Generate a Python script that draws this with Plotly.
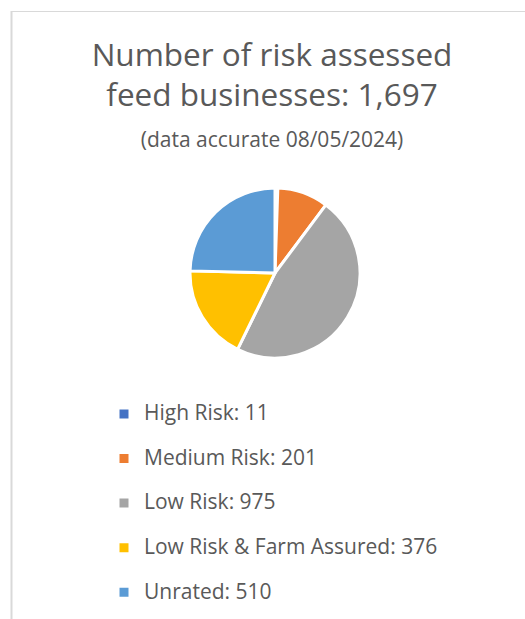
import plotly.graph_objects as go

categories = ["High Risk", "Medium Risk", "Low Risk", "Low Risk & Farm Assured", "Unrated"]
values = [11, 201, 975, 376, 510]
colors = ["#4472C4", "#ED7D31", "#A5A5A5", "#FFC000", "#5B9BD5"]
title_lines = ["Number of risk assessed", "feed businesses: 1,697"]
subtitle = "(data accurate 08/05/2024)"

W, H = 525, 619
FONT = "Open Sans"
TXT = "#595959"

legend_labels = [f'<span style="font-size:21px">{c}: {v}</span><br> ' for c, v in zip(categories, values)]

fig = go.Figure(go.Pie(
    labels=legend_labels,
    values=values,
    marker=dict(colors=colors, line=dict(color="white", width=3)),
    sort=False,
    direction="clockwise",
    rotation=0,
    textinfo="none",
    hoverinfo="label+value",
    domain=dict(x=[(275 - 85) / W, (275 + 85) / W], y=[1 - 358 / H, 1 - 188 / H]),
))

fig.update_layout(
    width=W, height=H,
    margin=dict(l=0, r=0, t=0, b=0, autoexpand=False),
    paper_bgcolor="white",
    plot_bgcolor="white",
    font=dict(family=FONT, color=TXT),
    title=dict(
        text=title_lines[0] + "<br>" + title_lines[1] + f'<br><span style="font-size:21px">{subtitle}</span>',
        x=272 / W, xanchor="center",
        y=1 - 65.5 / H, yanchor="top", yref="container",
        font=dict(family=FONT, size=31.5, color=TXT),
    ),
    showlegend=True,
    legend=dict(
        x=104 / W, xanchor="left",
        y=1 - 397 / H, yanchor="top",
        font=dict(family=FONT, size=16, color=TXT),
        valign="top",
        bgcolor="rgba(0,0,0,0)",
        itemclick=False, itemdoubleclick=False,
    ),
    shapes=[
        dict(type="line", xref="paper", yref="paper", x0=11.5 / W, x1=11.5 / W, y0=0, y1=1 - 11 / H,
             line=dict(color="#D9D9D9", width=2)),
        dict(type="line", xref="paper", yref="paper", x0=11 / W, x1=1, y0=1 - 11.5 / H, y1=1 - 11.5 / H,
             line=dict(color="#D9D9D9", width=1)),
    ],
)

fig.write_html("out.html")
